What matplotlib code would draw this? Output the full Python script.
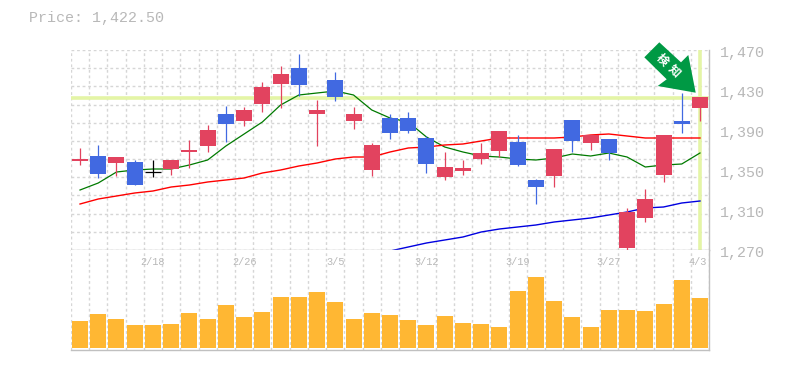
import matplotlib
matplotlib.use('Agg')
import matplotlib.pyplot as plt
from matplotlib.patches import Polygon

plt.rcParams['font.family'] = ['Liberation Mono', 'DejaVu Sans Mono']

# daily prices
opens = [1361, 1364, 1363, 1358, 1348, 1360, 1370, 1390, 1406, 1410, 1433, 1446,
         1452, 1410, 1440, 1406, 1375, 1402, 1402, 1382, 1353, 1352, 1367, 1389,
         1378, 1340, 1371, 1400, 1385, 1381, 1308, 1321, 1385, 1399, 1423]
closes = [1359, 1346, 1357, 1335, 1348, 1351, 1368, 1374, 1396, 1399, 1416, 1436,
          1435, 1406, 1423, 1399, 1350, 1387, 1389, 1356, 1343, 1349, 1361, 1369,
          1355, 1333, 1344, 1379, 1377, 1367, 1272, 1302, 1345, 1396, 1412]
highs = [1372, 1375, 1363, 1360, 1360, 1360, 1380, 1395, 1414, 1413, 1438, 1454,
         1466, 1420, 1448, 1413, 1377, 1406, 1408, 1384, 1368, 1360, 1377, 1389,
         1385, 1341, 1371, 1400, 1385, 1381, 1312, 1331, 1385, 1427, 1423]
lows = [1355, 1342, 1344, 1335, 1343, 1345, 1352, 1368, 1378, 1394, 1408, 1412,
        1424, 1374, 1419, 1391, 1344, 1381, 1387, 1347, 1340, 1345, 1356, 1363,
        1354, 1316, 1333, 1368, 1370, 1360, 1270, 1298, 1338, 1387, 1399]
# 0 red, 1 blue, 2 black
kinds = [0, 1, 0, 1, 2, 0, 0, 0, 1, 0, 0, 0,
         1, 0, 1, 0, 0, 1, 1, 1, 0, 0, 0, 0,
         1, 1, 0, 1, 0, 1, 0, 0, 0, 1, 0]

ma_short = [1330, 1337, 1348, 1350, 1351, 1351, 1355, 1360, 1374, 1386, 1398, 1415,
            1425, 1427, 1429, 1425, 1410, 1402, 1398, 1383, 1373, 1368, 1364, 1363,
            1361, 1360, 1362, 1366, 1364, 1367, 1363, 1353, 1355, 1356, 1367]
ma_mid = [1316, 1321, 1324, 1327, 1329, 1333, 1335, 1338, 1340, 1342, 1347, 1350,
          1354, 1357, 1361, 1363, 1363, 1368, 1372, 1373, 1375, 1376, 1379, 1382,
          1382, 1382, 1382, 1383, 1385, 1386, 1384, 1382, 1382, 1382, 1382]
ma_long_start = 17
ma_long = [1269, 1273, 1277, 1280, 1283, 1288, 1291, 1293, 1295, 1298,
           1300, 1302, 1305, 1308, 1312, 1313, 1317, 1319]

volumes = [27, 34, 29, 23, 23, 24, 35, 29, 43, 31, 36, 51, 51, 56, 46, 29, 35, 33,
           28, 23, 32, 25, 24, 21, 57, 71, 47, 31, 21, 38, 38, 37, 44, 68, 50]

date_idx = [4, 9, 14, 19, 24, 29, 34]
date_labels = ['2/18', '2/26', '3/5', '3/12', '3/19', '3/27', '4/3']
price_ticks = [1470, 1430, 1390, 1350, 1310, 1270]
current_price = 1422.5
current_idx = 34

W, H = 785, 370
RED = '#e2435f'
BLUE = '#4169e1'
GREY = '#b8b8b8'
GRID = '#d6d6d6'
HILITE = '#e4f5a6'
n = len(opens)
x = list(range(n))

fig = plt.figure(figsize=(W / 100, H / 100), dpi=100)
ax = fig.add_axes([70.9 / W, (H - 250) / H, 638.2 / W, 200 / H])
vol = fig.add_axes([70.9 / W, (H - 350) / H, 638.2 / W, 100 / H])

for a in (ax, vol):
    a.set_xlim(-0.5, n - 0.5)
    a.set_xticks([i - 0.5 for i in range(n + 1)])
    a.tick_params(length=0, labelbottom=False, labelleft=False)
    a.grid(axis='x', color=GRID, lw=1.0, ls=(0, (2, 2)))
    a.set_axisbelow(True)
    for s in a.spines.values():
        s.set_visible(False)
    a.spines['right'].set_visible(True)
    a.spines['bottom'].set_visible(True)
    a.spines['right'].set_color('#c0c0c0')
    a.spines['bottom'].set_color('#c0c0c0')
    a.spines['right'].set_linewidth(1.0)
    a.spines['bottom'].set_linewidth(1.0)

ax.set_ylim(1270, 1470)
ax.set_yticks([1470 - i * 200 / 11 for i in range(12)])
ax.grid(axis='y', color=GRID, lw=1.0, ls=(0, (2, 2)))

# current price markers
ax.axhline(current_price, color=HILITE, lw=2.6, zorder=1.5)
ax.axvline(current_idx, color=HILITE, lw=2.6, zorder=1.5)

# moving averages
ax.plot(x, ma_short, color='#007a00', lw=0.9, zorder=2)
ax.plot(x, ma_mid, color='#ff0000', lw=1.0, zorder=2)
ax.plot(x[ma_long_start:], ma_long, color='#0000e0', lw=1.0, zorder=2)

# candles
for i in x:
    c = [RED, BLUE, 'black'][kinds[i]]
    ax.vlines(i, lows[i], highs[i], color=c, lw=0.9, zorder=3, clip_on=False)
    if kinds[i] == 2:
        ax.hlines(opens[i], i - 0.44, i + 0.44, color=c, lw=0.9, zorder=3)
    else:
        ax.bar(i, abs(opens[i] - closes[i]), 0.877, min(opens[i], closes[i]), color=c, zorder=3)

# volume
vol.set_ylim(-2.3, 97.7)
vol.bar(x, volumes, 0.877, color='#ffb733', zorder=3)

# axis texts
for p in price_ticks:
    ax.annotate(f'{p:,}', (1, p), xycoords=('axes fraction', 'data'), xytext=(11, -3),
                textcoords='offset pixels', color=GREY, fontsize=10.8, ha='left',
                va='center', annotation_clip=False)
for i, d in zip(date_idx, date_labels):
    shift = -2 if d == '4/3' else 0
    vol.annotate(d, (i, 1), xycoords=('data', 'axes fraction'), xytext=(shift, -12),
                 textcoords='offset pixels', color=GREY, fontsize=7.4, ha='center',
                 va='center', annotation_clip=False)

fig.text(29 / W, 1 - 18 / H, f'Price: {current_price:,.2f}', color=GREY, fontsize=10.8,
         ha='left', va='center')

# signal arrow
arrow = [(659.3, 42.3), (644.3, 57.3), (666.7, 79.3), (657.7, 86), (695.7, 92.7),
         (688.3, 55), (681, 62.3)]
fig.add_artist(Polygon([(px / W, 1 - py / H) for px, py in arrow], closed=True,
                       color='#009944', lw=0, transform=fig.transFigure, zorder=5))
for ch, cx, cy in [('検', 661.7, 60), ('知', 674, 71)]:
    fig.text(cx / W, 1 - cy / H, ch, color='white', fontsize=8.5, rotation=-45,
             family=['Noto Sans CJK JP', 'DejaVu Sans'], weight='bold', ha='center',
             va='center', rotation_mode='anchor', zorder=6)

fig.savefig('out.png', dpi=100)
